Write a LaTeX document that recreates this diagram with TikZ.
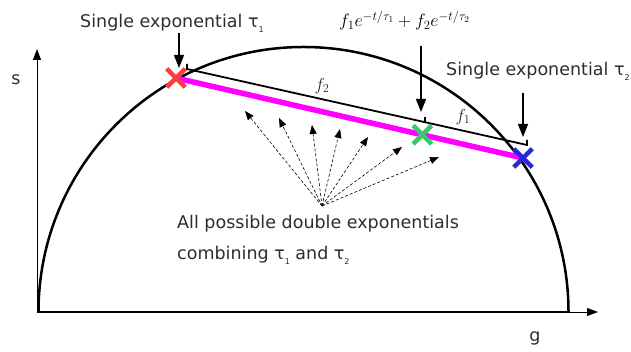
\RequirePackage{fix-cm}
\documentclass[tikz,border=0pt]{standalone}
\usepackage{fontspec}
\setmainfont{DejaVu Sans}
\usetikzlibrary{arrows.meta,calc,shapes.misc}
\definecolor{txtgray}{RGB}{45,45,45}
\definecolor{mkred}{RGB}{250,60,60}
\definecolor{mkgreen}{RGB}{55,200,105}
\definecolor{mkblue}{RGB}{40,40,215}
\definecolor{mixline}{RGB}{255,0,255}
\newcommand{\tsub}[1]{τ\raisebox{-0.5ex}{\fontsize{8}{8}\selectfont #1}}
\begin{document}
\begin{tikzpicture}[
x=1pt,y=1pt,
every node/.style={inner sep=0pt,text=txtgray,font=\fontsize{17.5}{21}\selectfont},
axis/.style={line width=0.9pt,-{Triangle[length=11pt,width=8pt]}},
pointer/.style={line width=1.3pt,-{Triangle[length=13pt,width=10pt]}},
fan/.style={line width=0.6pt,densely dashed,-{Triangle[length=9pt,width=7pt]}},
marker/.style={cross out,draw=#1,line width=4.5pt,minimum size=14pt}
]
\useasboundingbox (0,0) rectangle (631,352);
% axes and the half circle
\coordinate (o) at (37,40);
\coordinate (c) at (303.5,40);
\draw[axis] (o) -- (37,303);
\draw[axis] (o) -- (598,40);
\node[anchor=base] (s) at (16,267) {s};
\node[anchor=base] (g) at (535,10) {g};
\draw[line width=2.5pt] (38.5,40) arc[start angle=180,end angle=0,radius=265];
\draw[line width=2.5pt] (o) -- (568.5,40);
% the two single exponentials and their mix
\coordinate (pR) at (176,274);
\coordinate (pB) at (523,194);
\coordinate (pG) at ($(pR)!0.71!(pB)$);
\draw[mixline,line width=5.5pt] (pR) -- (pB);
\node[marker=mkred] (red) at (pR) {};
\node[marker=mkgreen] (green) at (pG) {};
\node[marker=mkblue] (blue) at (pB) {};
% fractions f1 and f2
\coordinate (fA) at (187,283);
\coordinate (fB) at (527,207);
\coordinate (fM) at ($(fA)!0.70!(fB)$);
\draw[line width=1.8pt] ($(fA)+(0,5)$) -- (fA) -- (fB) -- ++(0,5);
\draw[line width=1.2pt] (fM) -- ++(0,5);
\node (f2) at (322,266) {$f_2$};
\node (f1) at (463,235) {$f_1$};
% labels on top
\node[anchor=base west] (lab1) at (80,324) {Single exponential \tsub{1}};
\node[anchor=base west,text=black] (mix) at (339,325)
  {\fontsize{18}{22}\selectfont$f_1e^{-t/\tau_1}+f_2e^{-t/\tau_2}$};
\node[anchor=base west] (lab2) at (446,276) {Single exponential \tsub{2}};
\coordinate (tR) at (179,284);
\coordinate (gTop) at (421,306);
\coordinate (tG) at (421,240);
\coordinate (bTop) at (523,259);
\coordinate (tB) at (523,215);
\draw[pointer] (lab1.south -| tR) -- (tR);
\draw[pointer] (gTop) -- (tG);
\draw[pointer] (bTop) -- (tB);
% all the double exponentials
\coordinate (root) at (322,146);
\foreach \x/\y in {245/241,279/234,312/227,340/223,368/215,402/205,439/195}
  \draw[fan] (root) -- (\x,\y);
\node[anchor=base west] (all) at (177,123) {All possible double exponentials};
\node[anchor=base west] (comb) at (177,92) {combining \tsub{1} and \tsub{2}};
\end{tikzpicture}
\end{document}
